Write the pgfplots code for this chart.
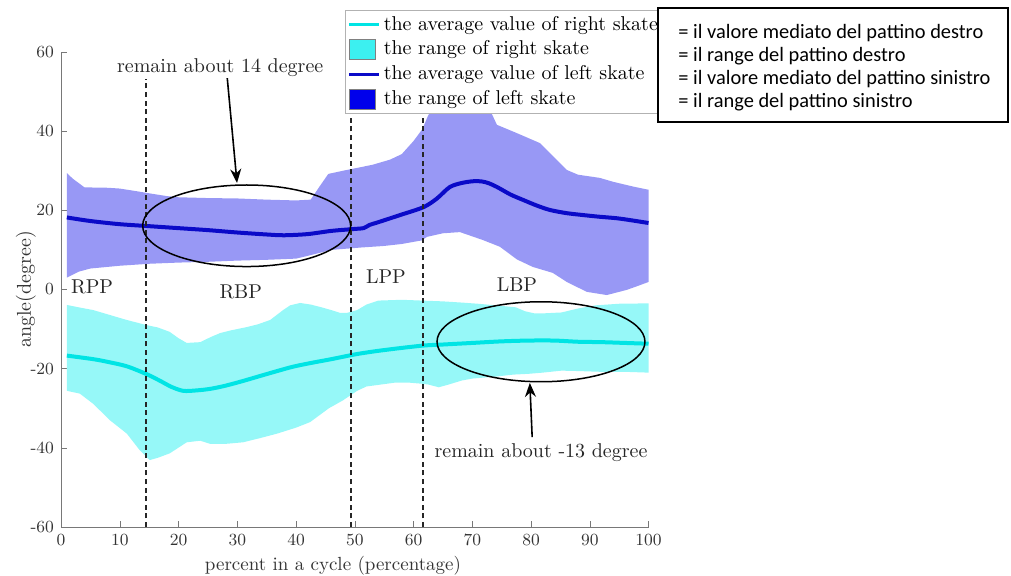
\documentclass[border=0pt]{standalone}
\usepackage{pgfplots}
\pgfplotsset{compat=1.18}
\usepackage{fontspec}
\newfontfamily\carlito{Carlito}
\usetikzlibrary{arrows.meta}
\definecolor{bandblue}{RGB}{152,152,245}
\definecolor{bandcyan}{RGB}{150,248,248}
\definecolor{lineblue}{RGB}{10,10,200}
\definecolor{linecyan}{RGB}{0,228,228}
\definecolor{legblue}{RGB}{0,0,235}
\definecolor{legcyan}{RGB}{60,240,240}
\definecolor{axgray}{RGB}{120,120,120}
\begin{document}
\begin{tikzpicture}
\begin{axis}[
  scale only axis, width=293.75pt, height=237.5pt,
  xmin=0, xmax=100, ymin=-60, ymax=60,
  axis lines=left, axis line style={-, draw=axgray},
  xtick={0,10,...,100}, ytick={-60,-40,...,60},
  tick align=inside, major tick length=3pt, tick style={axgray},
  ticklabel style={font=\fontsize{8.5}{10}\selectfont, text=black!80},
  /pgf/number format/assume math mode=true,
  xlabel={percent in a cycle (percentage)},
  ylabel={angle(degree)},
  xlabel style={at={(axis description cs:0.463,-0.081)}, anchor=center, font=\fontsize{9.5}{11}\selectfont, text=black!80},
  ylabel style={at={(axis description cs:-0.0596,0.5)}, anchor=center, font=\fontsize{10}{12}\selectfont, text=black!80},
  clip=false,
  legend style={at={(axis description cs:0.4834,1.088)}, anchor=north west, draw=gray!60, fill=white,
    font=\fontsize{10}{12}\selectfont, inner sep=1.2pt, row sep=0.9pt, nodes={inner sep=1.5pt}},
  legend cell align=left,
]
% bands
\addplot[fill=bandblue, draw=none, forget plot] coordinates {
(1,29.4) (2,28) (4,25.8) (8,25.7) (10,25.5) (13,24.8) (15,24.3) (18,23.6) (20,23.3) (25,23.1) (30,23.0) (35,22.7) (40,22.5) (42.5,22.7) (44,26) (45.5,29.2) (48,30) (50,30.6) (53,31.5) (56,32.8) (58,34.2) (60,37.5) (61.5,40.5) (62.5,44) (64,47) (66,49) (70,50) (72.5,47) (74.2,41.6) (77.6,39.5) (81.5,37) (84.4,32.7) (86.1,30.2) (88,29) (91.7,28.2) (94,27.2) (97.4,26) (100,25.2)
(100,1.9) (98,0.8) (96.3,-0.1) (92.9,-1.4) (89.5,-0.6) (86.1,1.9) (83.7,4.2) (80.3,5.7) (77.6,7.6) (74.7,10.8) (71.8,12.5) (67.9,14.5) (65,14.2) (62.3,13.3) (61.4,12.4) (58,11.5) (55,11) (51,10.6) (46,10) (42,8.5) (40,7.8) (35,7.5) (30,7.3) (25,7.0) (20,6.8) (15,6.5) (10,6.0) (5,5.3) (3,4.5) (1,3)
} -- cycle;
\addplot[fill=bandcyan, draw=none, forget plot] coordinates {
(1,-3.9) (3,-4.5) (5.5,-5.2) (8,-6.3) (11.2,-7.7) (14.6,-9) (16.5,-9.6) (18.5,-10.7) (20,-12.3) (21.4,-13.5) (23.7,-13.3) (25.5,-12) (27.1,-11) (29,-10.3) (31.6,-9.5) (33.5,-8.8) (35.6,-7.7) (37.8,-5.2) (39,-4) (40.7,-3.4) (42.5,-3.8) (44.1,-4.4) (46,-5.2) (47.5,-5.9) (48.7,-5.9) (50.4,-5.2) (52,-3.8) (54,-2.8) (58,-2.6) (61.4,-2.8) (65,-3) (68.2,-3.3) (71,-3.6) (74,-4) (77.4,-4.5) (79,-5.5) (80.5,-6) (82.5,-6) (85.2,-5.8) (88,-4.8) (91,-4) (95,-3.6) (100,-3.5)
(100,-21) (96,-20.8) (92,-20.8) (88,-20.6) (85.2,-20.5) (82,-21) (79.6,-21.3) (77,-21.5) (74,-22) (70,-22.5) (68.2,-23) (66,-24) (64.3,-24.7) (62.5,-24) (61.4,-23.8) (59,-23.5) (57,-23.5) (54.5,-24) (52,-24.5) (50.4,-25.6) (48,-28) (45.6,-30) (42.4,-33.5) (40,-34.9) (36.8,-36.4) (34,-37.5) (31,-38.6) (28,-39) (25.4,-39) (23.7,-38.2) (21.4,-38.6) (18.5,-41.4) (16.5,-42.5) (15.1,-43.1) (13.4,-40.6) (11.2,-36.4) (8.3,-33) (5.5,-28.9) (3.2,-26.3) (1,-25.6)
} -- cycle;
% mean lines
\addplot[lineblue, line width=2pt, smooth, forget plot] coordinates {
(1,18.2) (5,17.3) (10,16.5) (15,16.0) (20,15.5) (25,15.0) (30,14.4) (35,13.9) (38,13.7) (42,14.0) (46,14.8) (50,15.3) (51.5,15.5) (52.5,16.3) (54,17) (57.7,18.8) (61.7,20.8) (64,23) (66.2,25.9) (68.5,27) (70.8,27.4) (72.5,27) (74.2,25.9) (76.5,24) (78.7,22.6) (81,21.2) (83.2,20.1) (86,19.3) (88.9,18.8) (91.5,18.4) (94.6,18.0) (97,17.5) (100,16.8)
};
\addplot[linecyan, line width=2pt, smooth, forget plot] coordinates {
(1,-16.7) (5.5,-17.6) (8,-18.3) (11.2,-19.4) (14.6,-21.4) (16.9,-23.1) (18.8,-24.6) (20.8,-25.6) (23,-25.5) (25.4,-25.1) (28,-24.3) (31,-23.1) (34,-21.8) (36.8,-20.6) (39.5,-19.5) (42.4,-18.6) (46,-17.6) (50.4,-16.3) (55,-15.3) (61.4,-14.2) (65,-13.9) (70,-13.5) (75,-13.1) (79.6,-12.9) (84,-12.9) (88,-13.2) (92,-13.3) (96,-13.5) (100,-13.7)
};
% phase separators
\addplot[black!85, line width=0.9pt, dash pattern=on 2.5pt off 1.8pt, forget plot] coordinates {(14.5,-60) (14.5,53.4)};
\addplot[black!85, line width=0.9pt, dash pattern=on 2.5pt off 1.8pt, forget plot] coordinates {(49.3,-60) (49.3,50)};
\addplot[black!85, line width=0.9pt, dash pattern=on 2.5pt off 1.8pt, forget plot] coordinates {(61.6,-60) (61.6,50)};
% legend entries
\addlegendimage{legend image code/.code={\draw[linecyan, line width=1.5pt] (0pt,0pt) -- (15pt,0pt);}}
\addlegendentry{the average value of right skate}
\addlegendimage{legend image code/.code={\draw[fill=legcyan, draw=gray] (0pt,-5pt) rectangle (13pt,5pt);}}
\addlegendentry{the range of right skate}
\addlegendimage{legend image code/.code={\draw[lineblue, line width=1.5pt] (0pt,0pt) -- (15pt,0pt);}}
\addlegendentry{the average value of left skate}
\addlegendimage{legend image code/.code={\draw[fill=legblue, draw=gray] (0pt,-5pt) rectangle (13pt,5pt);}}
\addlegendentry{the range of left skate}
% annotations
\draw[black, line width=0.75pt] (axis cs:31.6,16.1) ellipse [x radius=17.7, y radius=10.3];
\draw[black, line width=0.75pt] (axis cs:81.7,-13.2) ellipse [x radius=17.7, y radius=10.1];
\node[fill=white, inner sep=1pt, font=\fontsize{10}{12}\selectfont, text=black!85] at (axis cs:27.1,56.0) {remain about 14 degree};
\node[fill=white, inner sep=1pt, font=\fontsize{10}{12}\selectfont, text=black!85] at (axis cs:81.7,-41.1) {remain about -13 degree};
\draw[black, line width=0.8pt, -{Stealth[length=7pt, width=5.5pt]}] (axis cs:28.3,53.4) -- (axis cs:29.96,26.9);
\draw[black, line width=0.8pt, -{Stealth[length=7pt, width=5.5pt]}] (axis cs:80.2,-37.3) -- (axis cs:79.8,-23.6);
\node[font=\fontsize{10}{12}\selectfont, text=black!85] at (axis cs:5.3,0.6) {RPP};
\node[font=\fontsize{10}{12}\selectfont, text=black!85] at (axis cs:30.6,-0.6) {RBP};
\node[font=\fontsize{10}{12}\selectfont, text=black!85] at (axis cs:55.3,3.2) {LPP};
\node[font=\fontsize{10}{12}\selectfont, text=black!85] at (axis cs:77.6,1.1) {LBP};
\end{axis}
% Italian translation box
\draw[black, line width=0.6pt, fill=white] (298.5pt,202.5pt) rectangle (473.5pt,259.5pt);
\node[anchor=west, align=left, inner sep=0pt, font=\carlito\fontsize{10.2}{11.6}\selectfont] at (308.5pt,229.6pt)
 {= il valore mediato del pattino destro\\= il range del pattino destro\\= il valore mediato del pattino sinistro\\= il range del pattino sinistro};
\pgfresetboundingbox
\useasboundingbox (-30.5pt,-24pt) rectangle (475pt,263.5pt);
\end{tikzpicture}
\end{document}
